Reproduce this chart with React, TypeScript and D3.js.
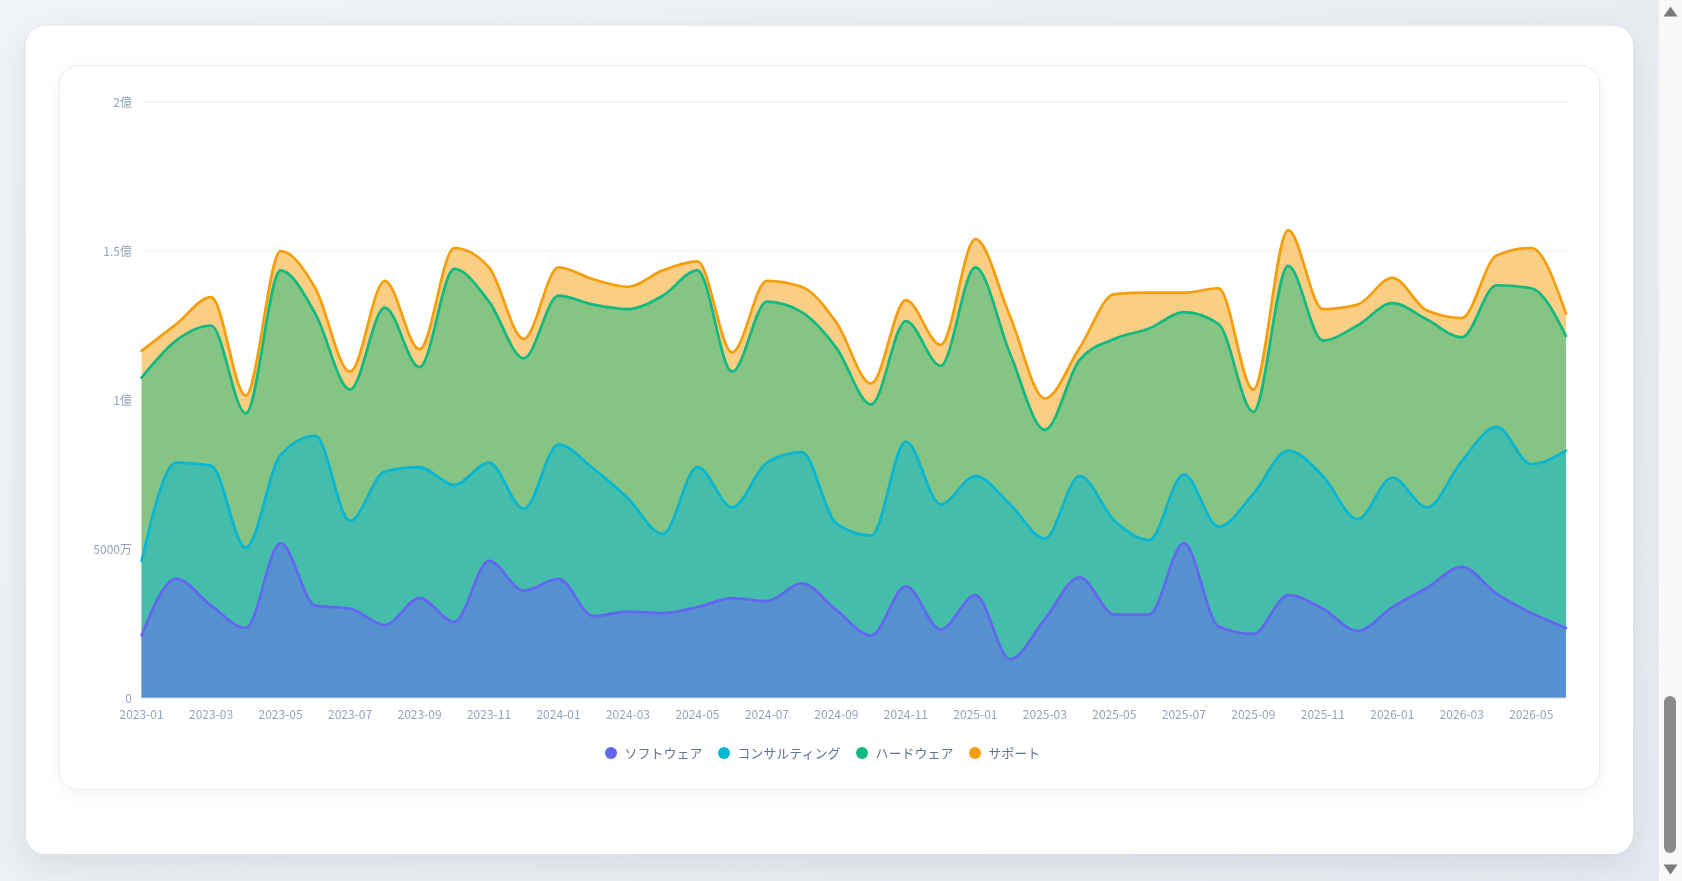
import React, { useEffect } from 'react';
import * as d3 from 'd3';

// Monthly revenue by business line, in units of 万円
const months = [
  '2023-01', '2023-02', '2023-03', '2023-04', '2023-05', '2023-06', '2023-07', '2023-08', '2023-09', '2023-10', '2023-11', '2023-12',
  '2024-01', '2024-02', '2024-03', '2024-04', '2024-05', '2024-06', '2024-07', '2024-08', '2024-09', '2024-10', '2024-11', '2024-12',
  '2025-01', '2025-02', '2025-03', '2025-04', '2025-05', '2025-06', '2025-07', '2025-08', '2025-09', '2025-10', '2025-11', '2025-12',
  '2026-01', '2026-02', '2026-03', '2026-04', '2026-05', '2026-06',
];
const software = [
  2100, 4000, 3100, 2350, 5200, 3100, 3000, 2450, 3350, 2550, 4600, 3600,
  4000, 2750, 2900, 2850, 3050, 3350, 3250, 3850, 2950, 2100, 3750, 2300,
  3450, 1300, 2650, 4050, 2800, 2800, 5200, 2400, 2150, 3450, 3000, 2250,
  3050, 3700, 4400, 3500, 2850, 2350,
];
const consulting = [
  2500, 3900, 4700, 2700, 2950, 5700, 2950, 5150, 4400, 4600, 3300, 2750,
  4500, 4950, 3800, 2650, 4700, 3050, 4650, 4400, 2900, 3350, 4850, 4200,
  4000, 5200, 2700, 3400, 3150, 2500, 2300, 3350, 4700, 4850, 4450, 3750,
  4350, 2700, 3550, 5600, 5000, 5950,
];
const hardware = [
  6150, 4100, 4700, 4500, 6200, 4100, 4400, 5500, 3350, 7250, 5400, 5050,
  5000, 5500, 6350, 8000, 6600, 4550, 5400, 4700, 5900, 4400, 4050, 4650,
  7000, 5050, 3650, 3900, 6100, 7100, 5450, 6800, 2750, 6200, 4550, 6500,
  5850, 6300, 4150, 4750, 5900, 3850,
];
const support = [
  900, 550, 950, 600, 650, 850, 600, 900, 600, 700, 1150, 650,
  950, 850, 750, 850, 300, 650, 700, 850, 850, 700, 700, 700,
  950, 1250, 1050, 400, 1500, 1200, 650, 1200, 750, 1200, 1050, 700,
  850, 300, 650, 1000, 1350, 750,
];
const seriesNames = ['ソフトウェア', 'コンサルティング', 'ハードウェア', 'サポート'];
const seriesColors = ['#6366f1', '#06b6d4', '#10b981', '#f59e0b'];
const yTicks = [0, 5000, 10000, 15000, 20000];
const yTickLabels = ['0', '5000万', '1億', '1.5億', '2億'];

const FONT = '"Noto Sans CJK JP", "Noto Sans", sans-serif';
const DOC_H = 4468;

// inner panel geometry
const PANEL_W = 1541;
const PANEL_H = 725;
const PLOT_L = 82.6;
const PLOT_R = 1507;
const PLOT_T = 37;
const PLOT_B = 633;

function Chart() {
  const rows = months.map((m, i) => ({
    month: m,
    s0: software[i],
    s1: consulting[i],
    s2: hardware[i],
    s3: support[i],
  }));
  const stack = d3.stack<any>().keys(['s0', 's1', 's2', 's3'])(rows);

  const x = d3.scalePoint<string>().domain(months).range([PLOT_L, PLOT_R]);
  const y = d3.scaleLinear().domain([0, 20000]).range([PLOT_B, PLOT_T]);

  // each layer is filled from the baseline up to its stacked top
  const area = d3
    .area<any>()
    .x((d) => x(d.data.month) as number)
    .y0(() => y(0))
    .y1((d) => y(d[1]))
    .curve(d3.curveMonotoneX);
  const line = d3
    .line<any>()
    .x((d) => x(d.data.month) as number)
    .y((d) => y(d[1]))
    .curve(d3.curveMonotoneX);

  const xTickMonths = months.filter((_, i) => i % 2 === 0);
  const drawOrder = [3, 2, 1, 0];

  return (
    <svg width={PANEL_W} height={PANEL_H} style={{ position: 'absolute', left: -1, top: -1 }}>
      {yTicks.map((t, i) => (
        <g key={t}>
          {t > 0 && (
            <line x1={PLOT_L} x2={PLOT_R} y1={y(t)} y2={y(t)} stroke="#eceef2" strokeWidth={1} />
          )}
          <text
            x={73}
            y={y(t) + 1}
            dy="0.35em"
            textAnchor="end"
            fontFamily={FONT}
            fontSize={12}
            fill="#94a3b8"
          >
            {yTickLabels[i]}
          </text>
        </g>
      ))}
      {drawOrder.map((k) => (
        <path key={'a' + k} d={area(stack[k] as any) as string} fill={seriesColors[k]} fillOpacity={0.5} />
      ))}
      <line x1={PLOT_L} x2={PLOT_R} y1={y(0)} y2={y(0)} stroke="#cbd5e1" strokeWidth={1} />
      {drawOrder.map((k) => (
        <path
          key={'l' + k}
          d={line(stack[k] as any) as string}
          fill="none"
          stroke={seriesColors[k]}
          strokeWidth={2.7}
          strokeLinejoin="round"
          strokeLinecap="round"
        />
      ))}
      {xTickMonths.map((m) => (
        <text
          key={m}
          x={x(m)}
          y={650}
          dy="0.35em"
          textAnchor="middle"
          fontFamily={FONT}
          fontSize={12}
          fill="#94a3b8"
        >
          {m}
        </text>
      ))}
    </svg>
  );
}

function Legend() {
  return (
    <div
      style={{
        position: 'absolute',
        left: 0,
        width: PANEL_W,
        top: 676,
        height: 22,
        display: 'flex',
        justifyContent: 'center',
        alignItems: 'center',
        fontFamily: FONT,
        fontSize: 13,
        color: '#64748b',
      }}
    >
      {seriesNames.map((n, i) => (
        <div key={n} style={{ display: 'flex', alignItems: 'center', marginRight: 15.6 }}>
          <span
            style={{
              width: 12,
              height: 12,
              borderRadius: '50%',
              background: seriesColors[i],
              marginRight: 7.3,
              display: 'inline-block',
            }}
          />
          <span style={{ lineHeight: '22px' }}>{n}</span>
        </div>
      ))}
    </div>
  );
}

// page scrollbar, drawn at the right edge of the viewport
function ScrollBar() {
  return (
    <div
      style={{
        position: 'fixed',
        top: 0,
        right: 0,
        width: 23,
        height: '100vh',
        background: '#f9f9f9',
      }}
    >
      <svg width={23} height={881} style={{ position: 'absolute', left: 0, top: 0 }}>
        <path d="M4.5,16.5 L11.5,6.5 L18.5,16.5 Z" fill="#7a7a7a" />
        <rect x={5} y={696} width={12} height={157} rx={6} fill="#8a8a8a" />
        <path d="M4.5,864.5 L18.5,864.5 L11.5,874.5 Z" fill="#7a7a7a" />
      </svg>
    </div>
  );
}

export default function App() {
  useEffect(() => {
    document.body.style.margin = '0';
    const go = () => window.scrollTo(0, document.documentElement.scrollHeight);
    go();
    requestAnimationFrame(go);
    setTimeout(go, 50);
  }, []);

  return (
    <div style={{ position: 'relative', height: DOC_H, fontFamily: FONT }}>
      <div
        style={{
          position: 'fixed',
          inset: 0,
          zIndex: -1,
          background: 'linear-gradient(135deg, #f0f3f7 0%, #e6eaf0 100%)',
        }}
      />
      <div
        style={{
          position: 'absolute',
          left: 26,
          top: DOC_H - 881 + 26,
          width: 1607,
          height: 828,
          background: '#ffffff',
          borderRadius: 20,
          boxShadow: '0 10px 30px rgba(100, 116, 139, 0.16)',
        }}
      >
        <div
          style={{
            position: 'absolute',
            left: 33,
            top: 39,
            width: PANEL_W,
            height: PANEL_H,
            boxSizing: 'border-box',
            background: '#ffffff',
            border: '1px solid #eceef2',
            borderRadius: 20,
            boxShadow: '0 4px 18px rgba(15, 23, 42, 0.05)',
          }}
        >
          <Chart />
          <Legend />
        </div>
      </div>
      <ScrollBar />
    </div>
  );
}
